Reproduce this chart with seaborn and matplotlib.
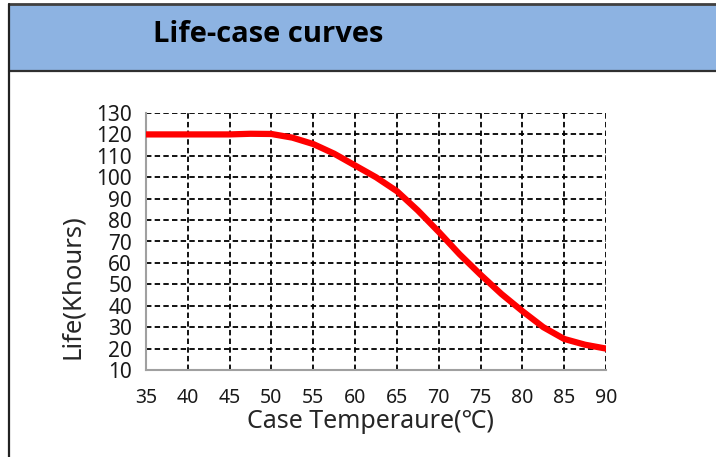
import matplotlib
matplotlib.use("Agg")
import matplotlib.pyplot as plt
import seaborn as sns
import pandas as pd
from matplotlib.patches import Rectangle
from matplotlib.lines import Line2D

temps = [35, 40, 45, 47.5, 50, 52.5, 55, 57.5, 60, 62.5, 65, 67.5, 70, 72.5, 75, 77.5, 80, 82.5, 85, 87.5, 90]
life = [120, 120, 120, 120.3, 120.2, 118.5, 115.5, 111, 105.5, 100, 93.5, 84.5, 74.5, 64, 54.5, 45.5, 37.5, 30, 24.5, 21.8, 20]
xticks = [35, 40, 45, 50, 55, 60, 65, 70, 75, 80, 85, 90]
yticks = [10, 20, 30, 40, 50, 60, 70, 80, 90, 100, 110, 120, 130]
title = "Life-case curves"
xlabel = "Case Temperaure(℃)"
ylabel = "Life(Khours)"

sns.set_theme(style="white")
plt.rcParams['font.family'] = ['Noto Sans', 'DejaVu Sans']

W, H = 716, 457
fig = plt.figure(figsize=(W / 100, H / 100), dpi=100)
fig.patch.set_facecolor("white")

# header band
fig.patches.append(Rectangle((9 / W, 1 - 71 / H), 1 - 9 / W, 67 / H, transform=fig.transFigure,
                             facecolor="#8DB3E2", edgecolor="none", zorder=0))
fig.lines.append(Line2D([9 / W, 1], [1 - 4 / H, 1 - 4 / H], transform=fig.transFigure, color="#404040", lw=2))
fig.lines.append(Line2D([9 / W, 1], [1 - 71 / H, 1 - 71 / H], transform=fig.transFigure, color="#303030", lw=1.6))
fig.lines.append(Line2D([9 / W, 9 / W], [0, 1 - 4 / H], transform=fig.transFigure, color="#222222", lw=1.6))
fig.text(153 / W, 1 - 34 / H, title, fontsize=21, fontweight="bold", color="black", va="center", ha="left",
         family=["Open Sans", "DejaVu Sans"])

ax = fig.add_axes([146 / W, (H - 370) / H, 460 / W, 257 / H])
df = pd.DataFrame({"temp": temps, "life": life})
sns.lineplot(data=df, x="temp", y="life", ax=ax, color="#FF0000", lw=4.5, zorder=5)

ax.set_xlim(35, 90)
ax.set_ylim(10, 130)
ax.set_xticks(xticks)
ax.set_yticks(yticks)
ax.set_xticklabels([str(t) for t in xticks], fontsize=14)
ax.set_yticklabels([str(t) for t in yticks], fontsize=15)
ax.tick_params(axis="x", length=0, pad=13, colors="#1a1a1a")
ax.tick_params(axis="y", length=0, pad=10, colors="#1a1a1a")
ax.grid(True, color="black", linestyle=(0, (3, 1.8)), lw=1.3)
ax.set_axisbelow(True)
for s in ["top", "right"]:
    ax.spines[s].set_visible(False)
for s in ["left", "bottom"]:
    ax.spines[s].set_color("#A0A0A0")
    ax.spines[s].set_linewidth(1.5)
ax.set_xlabel("")
ax.set_ylabel("")

fig.text(370 / W, 1 - 422 / H, xlabel, fontsize=18, ha="center", va="center")
fig.text(72 / W, 1 - 287 / H, ylabel, fontsize=18.5, ha="center", va="center", rotation=90)

fig.savefig("out.png", dpi=100, facecolor="white")
